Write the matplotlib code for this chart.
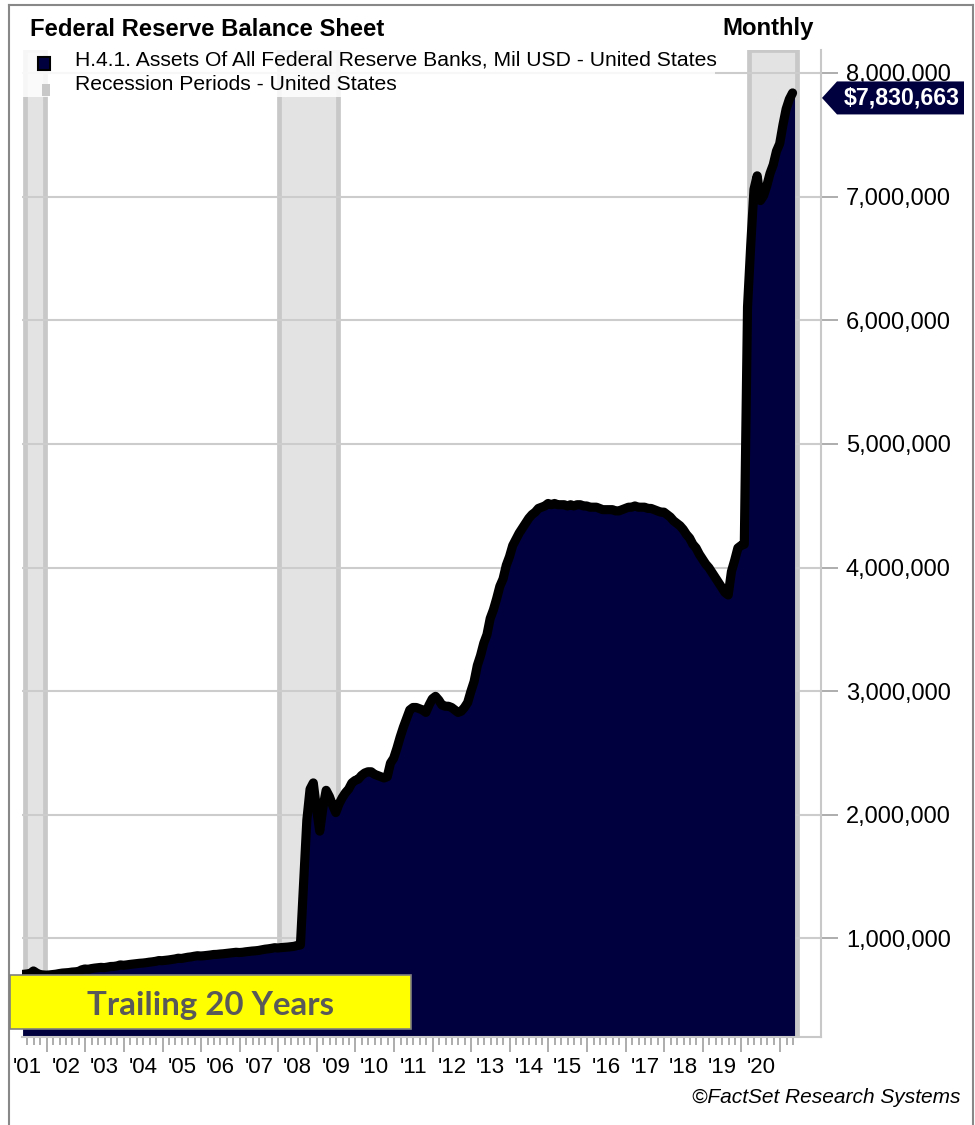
import numpy as np
import pandas as pd
import matplotlib
matplotlib.use("Agg")
import matplotlib.pyplot as plt
from matplotlib.patches import Rectangle, Polygon
from matplotlib.lines import Line2D
import matplotlib.transforms as mtrans

# ---------------- data ----------------
first_month = "2001-05"
last_month = "2021-05"
assets = [  # H.4.1 total assets, Mil USD, monthly
    # 2001 May-Dec
    700000, 702000, 705000, 708000, 729000, 712000, 700000, 697000,
    # 2002
    695000, 697000, 700000, 703000, 708000, 712000, 714000, 716000, 720000, 722000, 725000, 738000,
    # 2003
    745000, 742000, 748000, 752000, 755000, 758000, 756000, 760000, 765000, 766000, 770000, 778000,
    # 2004
    775000, 778000, 782000, 785000, 788000, 791000, 793000, 796000, 800000, 803000, 807000, 813000,
    # 2005
    812000, 815000, 818000, 822000, 826000, 832000, 830000, 835000, 840000, 843000, 848000, 852000,
    # 2006
    850000, 852000, 855000, 858000, 862000, 863000, 866000, 868000, 871000, 874000, 877000, 880000,
    # 2007
    878000, 880000, 884000, 887000, 890000, 892000, 895000, 900000, 905000, 908000, 912000, 917000,
    # 2008
    915000, 918000, 920000, 922000, 925000, 928000, 935000, 939000, 1450000, 1950000, 2200000, 2250000,
    # 2009
    2040000, 1860000, 2050000, 2190000, 2140000, 2070000, 2010000, 2080000, 2130000, 2170000, 2200000, 2250000,
    # 2010
    2270000, 2280000, 2310000, 2330000, 2340000, 2340000, 2320000, 2310000, 2300000, 2290000, 2300000, 2410000,
    # 2011
    2450000, 2530000, 2620000, 2700000, 2770000, 2840000, 2860000, 2860000, 2850000, 2840000, 2820000, 2880000,
    # 2012
    2930000, 2950000, 2920000, 2880000, 2870000, 2870000, 2860000, 2840000, 2820000, 2830000, 2860000, 2900000,
    # 2013
    2990000, 3070000, 3200000, 3280000, 3380000, 3450000, 3580000, 3650000, 3740000, 3840000, 3900000, 4010000,
    # 2014
    4080000, 4170000, 4220000, 4270000, 4310000, 4350000, 4390000, 4420000, 4440000, 4470000, 4480000, 4490000,
    # 2015
    4510000, 4500000, 4510000, 4500000, 4500000, 4500000, 4490000, 4500000, 4490000, 4500000, 4500000, 4490000,
    # 2016
    4490000, 4480000, 4480000, 4480000, 4470000, 4460000, 4460000, 4460000, 4460000, 4450000, 4450000, 4460000,
    # 2017
    4470000, 4480000, 4480000, 4490000, 4480000, 4480000, 4480000, 4470000, 4470000, 4460000, 4450000, 4440000,
    # 2018
    4440000, 4420000, 4400000, 4370000, 4350000, 4330000, 4300000, 4260000, 4230000, 4180000, 4150000, 4100000,
    # 2019
    4060000, 4020000, 3990000, 3950000, 3910000, 3870000, 3830000, 3790000, 3770000, 3960000, 4050000, 4150000,
    # 2020
    4170000, 4180000, 6100000, 6600000, 7050000, 7160000, 6960000, 7000000, 7080000, 7180000, 7250000, 7360000,
    # 2021 Jan-May
    7420000, 7570000, 7700000, 7780000, 7830663,
]
recession_start = [2001.44, 2008.02, 2020.19]   # decimal years
recession_end = [2001.96, 2009.55, 2021.44]
year_labels = ["'01", "'02", "'03", "'04", "'05", "'06", "'07", "'08", "'09", "'10",
               "'11", "'12", "'13", "'14", "'15", "'16", "'17", "'18", "'19", "'20"]
label_years = list(range(2001, 2021))
ytick_values = [1000000, 2000000, 3000000, 4000000, 5000000, 6000000, 7000000, 8000000]
title = "Federal Reserve Balance Sheet"
freq_label = "Monthly"
series_name = "H.4.1. Assets Of All Federal Reserve Banks, Mil USD - United States"
recession_name = "Recession Periods - United States"
badge = "Trailing 20 Years"
credit = "\u00a9FactSet Research Systems"

periods = pd.period_range(first_month, last_month, freq="M")
t = periods.year.values + (periods.month.values - 0.5) / 12.0
vals = np.array(assets, dtype=float)

# ---------------- figure ----------------
NAVY = "#00003f"
W, H = 975, 1125
plt.rcParams["font.family"] = ["Liberation Sans", "DejaVu Sans"]
fig = plt.figure(figsize=(W / 100, H / 100), dpi=100)
renderer = fig.canvas.get_renderer()


def fx(x):
    return x / W


def fy(y):
    return 1 - y / H


def fit(txt, target_w):
    w = txt.get_window_extent(renderer).width
    txt.set_fontsize(txt.get_fontsize() * target_w / w)


AX_L, AX_R, AX_T, AX_B = 22, 821, 50, 1037
ax = fig.add_axes([fx(AX_L), fy(AX_B), (AX_R - AX_L) / W, (AX_B - AX_T) / H])
ax.set_xlim(2001.36, 2022.06)
ax.set_ylim(203000, 8186000)

# recession bands
for s, e in zip(recession_start, recession_end):
    ax.axvspan(s, e, facecolor="#e3e3e3", edgecolor="#c8c8c8", lw=3.4, zorder=0.4)

ax.set_axisbelow("line")
ax.yaxis.grid(True, color="#cccccc", lw=1.5)
ax.xaxis.grid(False)

ax.fill_between(t, 0, vals, color=NAVY, lw=0, zorder=2)
shift = mtrans.ScaledTranslation(-0.02, 0.01, fig.dpi_scale_trans)
ax.plot(t, vals, color="black", lw=6.6, solid_joinstyle="round",
        solid_capstyle="round", zorder=3, transform=ax.transData + shift)

for side in ["top", "left"]:
    ax.spines[side].set_visible(False)
for side in ["right", "bottom"]:
    ax.spines[side].set_color("#c8c8c8")
    ax.spines[side].set_linewidth(1.5)

ax.yaxis.tick_right()
ax.set_yticks(ytick_values)
ax.set_yticklabels([f"{v:,}" for v in ytick_values])
ax.tick_params(axis="y", length=12, width=1.2, color="#a0a0a0", pad=6,
               labelsize=17, labelcolor="black")

majors = list(range(2002, 2022))
minors = [y + k / 6 for y in range(2001, 2022) for k in range(1, 6)
          if 2001.4 < y + k / 6 < 2021.4]
ax.set_xticks(majors)
ax.set_xticks(minors, minor=True)
ax.tick_params(axis="x", which="major", length=11, width=1.2, color="#a0a0a0",
               labelbottom=False)
ax.tick_params(axis="x", which="minor", length=6, width=1.2, color="#a0a0a0",
               labelbottom=False)
lab_y = (AX_B - 1073) / (AX_B - AX_T)
for yr, lab in zip(label_years, year_labels):
    ax.text(yr + 0.5, lab_y, lab, transform=ax.get_xaxis_transform(),
            ha="center", va="baseline", fontsize=16, clip_on=False)

# ---------------- decorations ----------------
# outer frame
for xs, ys in [([9, 9], [5, 1125]), ([9, 973], [5, 5]), ([973, 973], [5, 1125])]:
    fig.add_artist(Line2D([fx(x) for x in xs], [fy(y) for y in ys],
                          color="#888888", lw=1.5, transform=fig.transFigure))

# title
tt = fig.text(fx(30), fy(36), title, fontsize=14.4, fontweight="bold",
              ha="left", va="baseline")
fit(tt, 353)
tm = fig.text(fx(814), fy(35), freq_label, fontsize=14.4, fontweight="bold",
              ha="right", va="baseline")
tm.set_fontsize(tt.get_fontsize())

# legend
fig.add_artist(Rectangle((fx(22), fy(97)), fx(715) - fx(22), fy(50) - fy(97),
                         transform=fig.transFigure, facecolor="white",
                         edgecolor="none", alpha=0.85, zorder=5))
fig.add_artist(Rectangle((fx(38), fy(70)), fx(50) - fx(38), fy(57) - fy(70),
                         transform=fig.transFigure, facecolor=NAVY,
                         edgecolor="black", lw=1.5, zorder=6))
fig.add_artist(Rectangle((fx(42), fy(96)), fx(50) - fx(42), fy(84) - fy(96),
                         transform=fig.transFigure, facecolor="#c8c8c8",
                         edgecolor="none", zorder=6))
l1 = fig.text(fx(75), fy(65), series_name, fontsize=13, ha="left",
              va="baseline", zorder=7)
fit(l1, 640)
l2 = fig.text(fx(75), fy(90), recession_name, fontsize=l1.get_fontsize(),
              ha="left", va="baseline", zorder=7)

# last value badge
_, ypix = ax.transData.transform((2020.0, vals[-1]))
yc = H - ypix + 4
poly = Polygon([(fx(822), fy(yc)), (fx(837), fy(yc - 16.5)), (fx(964), fy(yc - 16.5)),
                (fx(964), fy(yc + 16.5)), (fx(837), fy(yc + 16.5))],
               closed=True, transform=fig.transFigure, facecolor=NAVY,
               edgecolor="none", zorder=6)
fig.add_artist(poly)
vb = fig.text(fx(901.5), fy(yc + 7), f"${int(vals[-1]):,}", color="white",
              fontsize=16.8, fontweight="bold", ha="center", va="baseline", zorder=7)
fit(vb, 117)

# yellow badge
fig.add_artist(Rectangle((fx(10), fy(1029)), fx(411) - fx(10), fy(975) - fy(1029),
                         transform=fig.transFigure, facecolor="#ffff00",
                         edgecolor="#808080", lw=1.2, zorder=6))
yb = fig.text(fx(210.5), fy(1015), badge, family=["Lato", "DejaVu Sans"],
              fontweight="bold", fontsize=24, color="#595959",
              ha="center", va="baseline", zorder=7)
fit(yb, 247)

# credit
cr = fig.text(fx(960), fy(1103), credit, fontsize=13.4, style="italic",
              ha="right", va="baseline")
fit(cr, 268)

fig.savefig("out.png", dpi=100)
